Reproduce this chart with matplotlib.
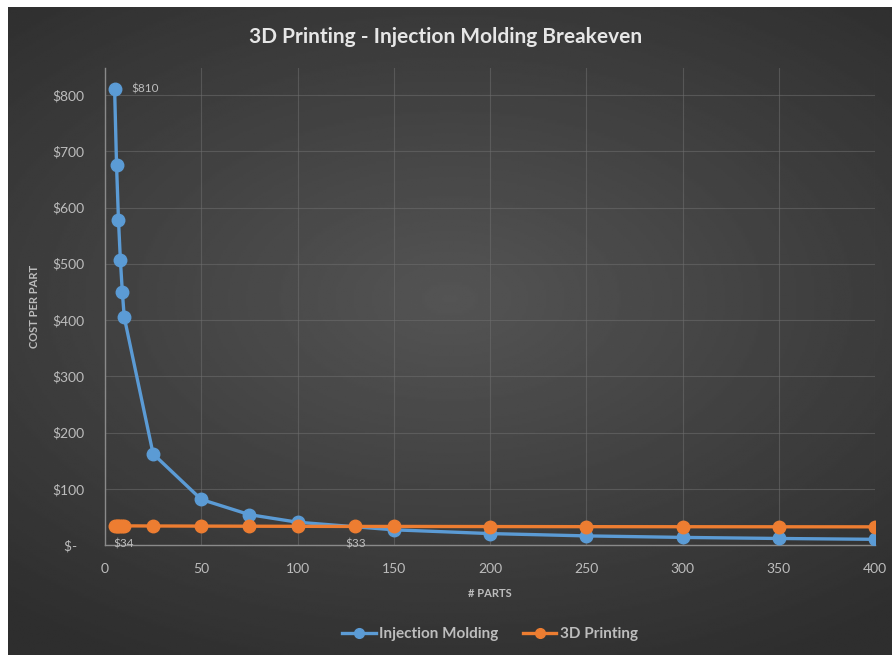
import numpy as np
import matplotlib.pyplot as plt
from matplotlib.ticker import FuncFormatter

# Datos
parts_im = [5, 6, 7, 8, 9, 10, 25, 50, 75, 100, 150, 200, 250, 300, 350, 400]
cost_im = [810, 675, 578, 506, 450, 405, 162, 81, 54, 40.5, 27, 20.3, 16.2, 13.5, 11.6, 10.1]

parts_3d = [5, 6, 7, 8, 9, 10, 25, 50, 75, 100, 130, 150, 200, 250, 300, 350, 400]
cost_3d = [34.4, 34.3, 34.2, 34.1, 34.0, 34.0, 33.8, 33.6, 33.4, 33.2, 33.0, 33.0, 32.8, 32.6, 32.5, 32.4, 32.3]

x_ticks = [0, 50, 100, 150, 200, 250, 300, 350, 400]
y_ticks = [0, 100, 200, 300, 400, 500, 600, 700, 800]

blue = '#5b9bd5'
orange = '#ed7d31'
text_col = '#bdbdbd'

plt.rcParams['font.family'] = ['Lato', 'DejaVu Sans']

fig = plt.figure(figsize=(8.92, 6.55), dpi=100, facecolor='white')

# Fondo oscuro con degradado radial
bg = fig.add_axes([8 / 892, 0, 1 - 8 / 892, 1 - 7 / 655])
yy, xx = np.mgrid[-1:1:300j, -1:1:400j]
r = np.sqrt((xx * 0.9) ** 2 + ((yy + 0.1) * 1.1) ** 2)
shade = 0.33 - 0.15 * np.clip(r, 0, 1.4) / 1.4
bg.imshow(shade, cmap='gray', vmin=0, vmax=1, aspect='auto', extent=[0, 1, 0, 1])
bg.axis('off')

ax = fig.add_axes([105 / 892, 1 - 545 / 655, 770 / 892, (545 - 68) / 655])
ax.set_facecolor('none')

ax.plot(parts_im, cost_im, color=blue, lw=2.4, marker='o', ms=9, label='Injection Molding', zorder=3)
ax.plot(parts_3d, cost_3d, color=orange, lw=2.4, marker='o', ms=9, label='3D Printing', zorder=4)

# Etiquetas de datos
ax.annotate('$810', (parts_im[0], cost_im[0]), xytext=(12, 0), textcoords='offset points',
            color=text_col, fontsize=8.5, va='center', ha='left')
ax.annotate('$34', (parts_3d[0], cost_3d[0]), xytext=(-1, -9), textcoords='offset points',
            color=text_col, fontsize=8.5, va='top', ha='left')
ax.annotate('$33', (parts_3d[10], cost_3d[10]), xytext=(0, -9), textcoords='offset points',
            color=text_col, fontsize=8.5, va='top', ha='center')

ax.set_xlim(0, 400)
ax.set_ylim(0, 848)
ax.set_xticks(x_ticks)
ax.set_yticks(y_ticks)
ax.yaxis.set_major_formatter(FuncFormatter(lambda v, p: '$-  ' if v == 0 else f'${int(v)}'))

ax.grid(True, color='#6e6e6e', lw=0.8, alpha=0.55)
ax.set_axisbelow(True)
for s in ['top', 'right']:
    ax.spines[s].set_visible(False)
for s in ['left', 'bottom']:
    ax.spines[s].set_color('#8a8a8a')
    ax.spines[s].set_linewidth(1)
ax.tick_params(length=0, colors=text_col, labelsize=10)
ax.tick_params(axis='y', pad=15)
ax.tick_params(axis='x', pad=13)

ax.set_xlabel('# PARTS', color=text_col, fontsize=8, fontweight='bold', labelpad=9)
ax.set_ylabel('COST PER PART', color=text_col, fontsize=8, fontweight='bold', labelpad=9)

fig.text(0.5, 1 - 37 / 655, '3D Printing - Injection Molding Breakeven', ha='center', va='center',
         color='#e6e6e6', fontsize=15, fontweight='bold')

leg = ax.legend(loc='center', bbox_to_anchor=(0.5, -0.187), ncol=2, frameon=False,
                fontsize=11, handlelength=2.2, columnspacing=1.6, handletextpad=0.2)
for t in leg.get_texts():
    t.set_color(text_col)
    t.set_fontweight('bold')
for h in leg.legend_handles:
    h.set_markersize(7)

fig.savefig('out.png', dpi=100, facecolor='white')
